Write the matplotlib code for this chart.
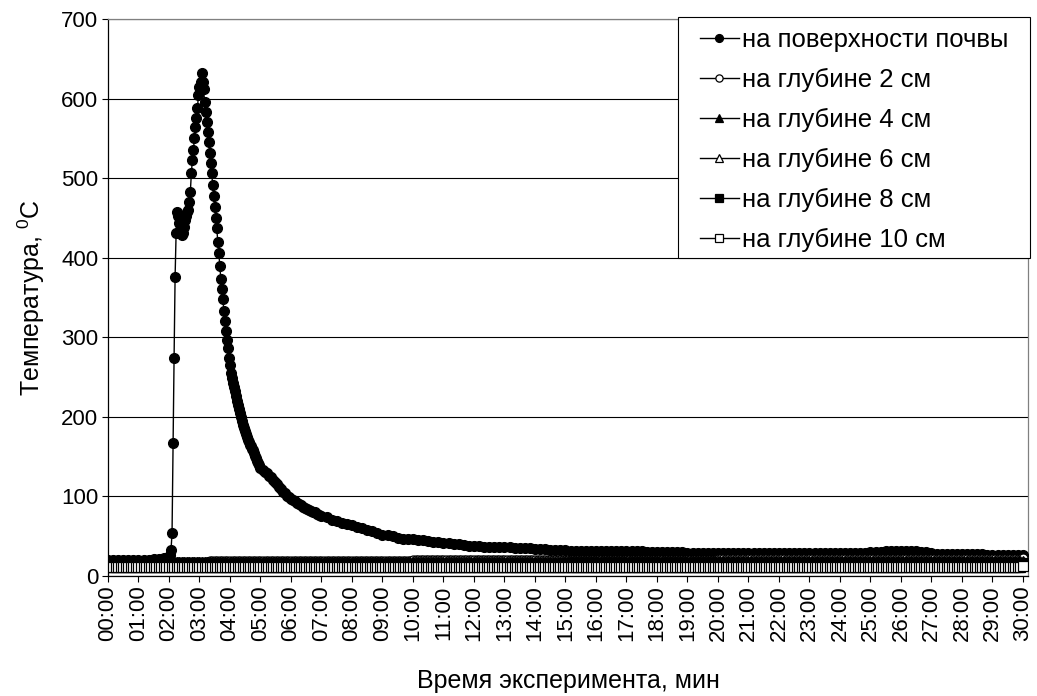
import matplotlib
matplotlib.use('Agg')
import matplotlib.pyplot as plt
from matplotlib.patches import Rectangle
import numpy as np

plt.rcParams['font.family'] = ['Liberation Sans', 'DejaVu Sans']
plt.rcParams['mathtext.fontset'] = 'custom'
plt.rcParams['mathtext.rm'] = 'Liberation Sans'

# ---------------- data ----------------
# time stamps (seconds) of the surface series: coarse before the burn, dense around the peak
surface_t = np.concatenate([np.arange(0, 111, 10), np.arange(116, 301, 2),
                            np.arange(304, 421, 4), np.arange(430, 1801, 10)])
surface = [
    20, 20, 20, 20, 20, 20, 20, 20, 20, 21, 21, 22,
    # 116 .. 300 s, every 2 s
    22, 23, 24, 27, 33, 54, 167, 274, 376, 431,
    458, 452, 444, 447, 435, 428, 431, 439, 447, 452,
    458, 460, 470, 483, 506, 523, 535, 550, 564, 575,
    588, 605, 615, 621, 632, 621, 612, 596, 583, 571,
    558, 546, 532, 519, 506, 492, 477, 464, 450, 437,
    420, 406, 389, 373, 361, 348, 333, 320, 308, 297,
    287, 274, 265, 255, 249, 243, 237, 232, 226, 220,
    215, 210, 205, 200, 195, 190, 186, 182, 178, 175,
    171, 168, 165, 163, 160, 158, 154, 151, 148, 145,
    142, 139, 136,
    # 304 .. 420 s, every 4 s
    133, 131, 129, 126, 124, 121, 118, 115, 112, 109,
    106, 104, 101, 99, 97, 95, 94, 92, 90, 89,
    87, 86, 84, 83, 82, 81, 80, 78, 77, 76,
    # 430 .. 1800 s, every 10 s
    74, 71, 69, 67, 65, 64, 62, 60,
    58, 56, 54, 52, 51, 50, 48, 47, 47, 46,
    45, 45, 44, 43, 43, 42, 41, 40, 40, 39,
    38, 38, 38, 37, 37, 37, 36, 36, 36, 35,
    35, 35, 35, 34, 34, 34, 33, 33, 33, 33,
    32, 32, 32, 32, 32, 32, 32, 32, 31, 31,
    31, 31, 31, 31, 31, 30, 30, 30, 30, 30,
    30, 30, 30, 29, 29, 29, 29, 29, 29, 29,
    29, 29, 29, 29, 29, 29, 29, 29, 29, 29,
    29, 29, 29, 29, 29, 29, 29, 29, 29, 29,
    29, 29, 29, 29, 29, 29, 29, 29, 29, 30,
    30, 30, 31, 31, 31, 31, 31, 31, 31, 30,
    30, 29, 28, 28, 28, 28, 28, 28, 28, 28,
    28, 28, 27, 27, 27, 27, 27, 27, 27, 27,
]

# depth series: one reading every 5 s, 0 .. 1800 s
depth_t = np.arange(0, 1801, 5)
depth_2 = [
    18, 18, 18, 18, 18, 18, 18, 18, 18, 18, 18, 18, 18, 18, 18, 18, 18, 18, 18, 18,
    18, 18, 18, 18, 18, 18, 18, 18, 18, 18, 18, 18, 18, 18, 18, 18, 18, 18, 18, 18,
    19, 19, 19, 19, 19, 19, 19, 19, 19, 19, 19, 19, 19, 19, 19, 19, 19, 19, 19, 19,
    19, 19, 19, 19, 19, 19, 19, 19, 19, 19, 19, 19, 19, 19, 19, 19, 19, 19, 19, 19,
    19, 19, 19, 19, 19, 19, 19, 19, 19, 19, 19, 19, 19, 19, 19, 19, 19, 19, 19, 19,
    19, 19, 19, 19, 19, 19, 19, 19, 19, 19, 19, 19, 19, 19, 19, 19, 19, 19, 19, 19,
    20, 20, 20, 20, 20, 20, 20, 20, 20, 20, 20, 20, 20, 20, 20, 20, 20, 20, 20, 20,
    20, 20, 20, 20, 20, 20, 20, 20, 20, 20, 20, 20, 20, 20, 20, 20, 20, 20, 20, 20,
    20, 20, 20, 20, 20, 20, 20, 20, 20, 20, 20, 20, 20, 20, 20, 20, 20, 20, 20, 20,
    20, 20, 20, 20, 20, 20, 20, 20, 20, 20, 20, 20, 20, 20, 20, 20, 20, 20, 20, 20,
    20, 20, 20, 20, 20, 20, 20, 20, 20, 20, 20, 20, 20, 20, 20, 20, 20, 20, 20, 20,
    20, 20, 20, 20, 20, 20, 20, 20, 20, 20, 20, 20, 20, 20, 20, 20, 20, 20, 20, 20,
    21, 21, 21, 21, 21, 21, 21, 21, 21, 21, 21, 21, 21, 21, 21, 21, 21, 21, 21, 21,
    21, 21, 21, 21, 21, 21, 21, 21, 21, 21, 21, 21, 21, 21, 21, 21, 21, 21, 21, 21,
    21, 21, 21, 21, 21, 21, 21, 21, 21, 21, 21, 21, 21, 21, 21, 21, 21, 21, 21, 21,
    21, 21, 21, 21, 21, 21, 21, 21, 21, 21, 21, 21, 21, 21, 21, 21, 21, 21, 21, 21,
    21, 21, 21, 21, 21, 21, 21, 21, 21, 21, 21, 21, 21, 21, 21, 21, 21, 21, 21, 21,
    21, 21, 21, 21, 21, 21, 21, 21, 21, 21, 21, 21, 21, 21, 21, 21, 21, 21, 21, 21,
    22,
]
depth_4 = [
    17, 17, 17, 17, 17, 17, 17, 17, 17, 17, 17, 17, 17, 17, 17, 17, 17, 17, 17, 17,
    17, 17, 17, 17, 17, 17, 17, 17, 17, 17, 17, 17, 17, 17, 17, 17, 17, 17, 17, 17,
    17, 17, 17, 17, 17, 17, 17, 17, 17, 17, 17, 17, 17, 17, 17, 17, 17, 17, 17, 17,
    18, 18, 18, 18, 18, 18, 18, 18, 18, 18, 18, 18, 18, 18, 18, 18, 18, 18, 18, 18,
    18, 18, 18, 18, 18, 18, 18, 18, 18, 18, 18, 18, 18, 18, 18, 18, 18, 18, 18, 18,
    18, 18, 18, 18, 18, 18, 18, 18, 18, 18, 18, 18, 18, 18, 18, 18, 18, 18, 18, 18,
    18, 18, 18, 18, 18, 18, 18, 18, 18, 18, 18, 18, 18, 18, 18, 18, 18, 18, 18, 18,
    18, 18, 18, 18, 18, 18, 18, 18, 18, 18, 18, 18, 18, 18, 18, 18, 18, 18, 18, 18,
    18, 18, 18, 18, 18, 18, 18, 18, 18, 18, 18, 18, 18, 18, 18, 18, 18, 18, 18, 18,
    19, 19, 19, 19, 19, 19, 19, 19, 19, 19, 19, 19, 19, 19, 19, 19, 19, 19, 19, 19,
    19, 19, 19, 19, 19, 19, 19, 19, 19, 19, 19, 19, 19, 19, 19, 19, 19, 19, 19, 19,
    19, 19, 19, 19, 19, 19, 19, 19, 19, 19, 19, 19, 19, 19, 19, 19, 19, 19, 19, 19,
    19, 19, 19, 19, 19, 19, 19, 19, 19, 19, 19, 19, 19, 19, 19, 19, 19, 19, 19, 19,
    19, 19, 19, 19, 19, 19, 19, 19, 19, 19, 19, 19, 19, 19, 19, 19, 19, 19, 19, 19,
    19, 19, 19, 19, 19, 19, 19, 19, 19, 19, 19, 19, 19, 19, 19, 19, 19, 19, 19, 19,
    19, 19, 19, 19, 19, 19, 19, 19, 19, 19, 19, 19, 19, 19, 19, 19, 19, 19, 19, 19,
    19, 19, 19, 19, 19, 19, 19, 19, 19, 19, 19, 19, 19, 19, 19, 19, 19, 19, 19, 19,
    19, 19, 19, 19, 19, 19, 19, 19, 19, 19, 19, 19, 19, 19, 19, 19, 19, 19, 19, 19,
    19,
]
depth_6 = [
    16, 16, 16, 16, 16, 16, 16, 16, 16, 16, 16, 16, 16, 16, 16, 16, 16, 16, 16, 16,
    16, 16, 16, 16, 16, 16, 16, 16, 16, 16, 16, 16, 16, 16, 16, 16, 16, 16, 16, 16,
    16, 16, 16, 16, 16, 16, 16, 16, 16, 16, 16, 16, 16, 16, 16, 16, 16, 16, 16, 16,
    16, 16, 16, 16, 16, 16, 16, 16, 16, 16, 16, 16, 16, 16, 16, 16, 16, 16, 16, 16,
    16, 16, 16, 16, 16, 16, 16, 16, 16, 16, 16, 16, 16, 16, 16, 16, 16, 16, 16, 16,
    16, 16, 16, 16, 16, 16, 16, 16, 16, 16, 16, 16, 16, 16, 16, 16, 16, 16, 16, 16,
    17, 17, 17, 17, 17, 17, 17, 17, 17, 17, 17, 17, 17, 17, 17, 17, 17, 17, 17, 17,
    17, 17, 17, 17, 17, 17, 17, 17, 17, 17, 17, 17, 17, 17, 17, 17, 17, 17, 17, 17,
    17, 17, 17, 17, 17, 17, 17, 17, 17, 17, 17, 17, 17, 17, 17, 17, 17, 17, 17, 17,
    17, 17, 17, 17, 17, 17, 17, 17, 17, 17, 17, 17, 17, 17, 17, 17, 17, 17, 17, 17,
    17, 17, 17, 17, 17, 17, 17, 17, 17, 17, 17, 17, 17, 17, 17, 17, 17, 17, 17, 17,
    17, 17, 17, 17, 17, 17, 17, 17, 17, 17, 17, 17, 17, 17, 17, 17, 17, 17, 17, 17,
    17, 17, 17, 17, 17, 17, 17, 17, 17, 17, 17, 17, 17, 17, 17, 17, 17, 17, 17, 17,
    17, 17, 17, 17, 17, 17, 17, 17, 17, 17, 17, 17, 17, 17, 17, 17, 17, 17, 17, 17,
    17, 17, 17, 17, 17, 17, 17, 17, 17, 17, 17, 17, 17, 17, 17, 17, 17, 17, 17, 17,
    17, 17, 17, 17, 17, 17, 17, 17, 17, 17, 17, 17, 17, 17, 17, 17, 17, 17, 17, 17,
    17, 17, 17, 17, 17, 17, 17, 17, 17, 17, 17, 17, 17, 17, 17, 17, 17, 17, 17, 17,
    17, 17, 17, 17, 17, 17, 17, 17, 17, 17, 17, 17, 17, 17, 17, 17, 17, 17, 17, 17,
    17,
]
depth_8 = [
    15, 15, 15, 15, 15, 15, 15, 15, 15, 15, 15, 15, 15, 15, 15, 15, 15, 15, 15, 15,
    15, 15, 15, 15, 15, 15, 15, 15, 15, 15, 15, 15, 15, 15, 15, 15, 15, 15, 15, 15,
    15, 15, 15, 15, 15, 15, 15, 15, 15, 15, 15, 15, 15, 15, 15, 15, 15, 15, 15, 15,
    15, 15, 15, 15, 15, 15, 15, 15, 15, 15, 15, 15, 15, 15, 15, 15, 15, 15, 15, 15,
    15, 15, 15, 15, 15, 15, 15, 15, 15, 15, 15, 15, 15, 15, 15, 15, 15, 15, 15, 15,
    15, 15, 15, 15, 15, 15, 15, 15, 15, 15, 15, 15, 15, 15, 15, 15, 15, 15, 15, 15,
    15, 15, 15, 15, 15, 15, 15, 15, 15, 15, 15, 15, 15, 15, 15, 15, 15, 15, 15, 15,
    15, 15, 15, 15, 15, 15, 15, 15, 15, 15, 15, 15, 15, 15, 15, 15, 15, 15, 15, 15,
    15, 15, 15, 15, 15, 15, 15, 15, 15, 15, 15, 15, 15, 15, 15, 15, 15, 15, 15, 15,
    16, 16, 16, 16, 16, 16, 16, 16, 16, 16, 16, 16, 16, 16, 16, 16, 16, 16, 16, 16,
    16, 16, 16, 16, 16, 16, 16, 16, 16, 16, 16, 16, 16, 16, 16, 16, 16, 16, 16, 16,
    16, 16, 16, 16, 16, 16, 16, 16, 16, 16, 16, 16, 16, 16, 16, 16, 16, 16, 16, 16,
    16, 16, 16, 16, 16, 16, 16, 16, 16, 16, 16, 16, 16, 16, 16, 16, 16, 16, 16, 16,
    16, 16, 16, 16, 16, 16, 16, 16, 16, 16, 16, 16, 16, 16, 16, 16, 16, 16, 16, 16,
    16, 16, 16, 16, 16, 16, 16, 16, 16, 16, 16, 16, 16, 16, 16, 16, 16, 16, 16, 16,
    16, 16, 16, 16, 16, 16, 16, 16, 16, 16, 16, 16, 16, 16, 16, 16, 16, 16, 16, 16,
    16, 16, 16, 16, 16, 16, 16, 16, 16, 16, 16, 16, 16, 16, 16, 16, 16, 16, 16, 16,
    16, 16, 16, 16, 16, 16, 16, 16, 16, 16, 16, 16, 16, 16, 16, 16, 16, 16, 16, 16,
    16,
]
depth_10 = [
    11, 11, 11, 11, 11, 11, 11, 11, 11, 11, 11, 11, 11, 11, 11, 11, 11, 11, 11, 11,
    11, 11, 11, 11, 11, 11, 11, 11, 11, 11, 11, 11, 11, 11, 11, 11, 11, 11, 11, 11,
    11, 11, 11, 11, 11, 11, 11, 11, 11, 11, 11, 11, 11, 11, 11, 11, 11, 11, 11, 11,
    11, 11, 11, 11, 11, 11, 11, 11, 11, 11, 11, 11, 11, 11, 11, 11, 11, 11, 11, 11,
    11, 11, 11, 11, 11, 11, 11, 11, 11, 11, 11, 11, 11, 11, 11, 11, 11, 11, 11, 11,
    11, 11, 11, 11, 11, 11, 11, 11, 11, 11, 11, 11, 11, 11, 11, 11, 11, 11, 11, 11,
    11, 11, 11, 11, 11, 11, 11, 11, 11, 11, 11, 11, 11, 11, 11, 11, 11, 11, 11, 11,
    11, 11, 11, 11, 11, 11, 11, 11, 11, 11, 11, 11, 11, 11, 11, 11, 11, 11, 11, 11,
    11, 11, 11, 11, 11, 11, 11, 11, 11, 11, 11, 11, 11, 11, 11, 11, 11, 11, 11, 11,
    11, 11, 11, 11, 11, 11, 11, 11, 11, 11, 11, 11, 11, 11, 11, 11, 11, 11, 11, 11,
    11, 11, 11, 11, 11, 11, 11, 11, 11, 11, 11, 11, 11, 11, 11, 11, 11, 11, 11, 11,
    11, 11, 11, 11, 11, 11, 11, 11, 11, 11, 11, 11, 11, 11, 11, 11, 11, 11, 11, 11,
    11, 11, 11, 11, 11, 11, 11, 11, 11, 11, 11, 11, 11, 11, 11, 11, 11, 11, 11, 11,
    11, 11, 11, 11, 11, 11, 11, 11, 11, 11, 11, 11, 11, 11, 11, 11, 11, 11, 11, 11,
    11, 11, 11, 11, 11, 11, 11, 11, 11, 11, 11, 11, 11, 11, 11, 11, 11, 11, 11, 11,
    11, 11, 11, 11, 11, 11, 11, 11, 11, 11, 11, 11, 11, 11, 11, 11, 11, 11, 11, 11,
    11, 11, 11, 11, 11, 11, 11, 11, 11, 11, 11, 11, 11, 11, 11, 11, 11, 11, 11, 11,
    11, 11, 11, 11, 11, 11, 11, 11, 11, 11, 11, 11, 11, 11, 11, 11, 11, 11, 11, 11,
    12,
]

series_labels = ['на поверхности почвы', 'на глубине 2 см', 'на глубине 4 см',
                 'на глубине 6 см', 'на глубине 8 см', 'на глубине 10 см']

tick_seconds = [m * 60 for m in range(31)]
tick_labels = ['00:00', '01:00', '02:00', '03:00', '04:00', '05:00', '06:00', '07:00',
               '08:00', '09:00', '10:00', '11:00', '12:00', '13:00', '14:00', '15:00',
               '16:00', '17:00', '18:00', '19:00', '20:00', '21:00', '22:00', '23:00',
               '24:00', '25:00', '26:00', '27:00', '28:00', '29:00', '30:00']
y_ticks = [0, 100, 200, 300, 400, 500, 600, 700]

# ---------------- figure ----------------
W, H = 1037, 696
fig = plt.figure(figsize=(W / 100, H / 100), dpi=100)
ax = fig.add_axes([108 / W, 1 - 576 / H, (1028 - 108) / W, (576 - 19) / H])

FS_TICK = 16
FS_LAB = 18
FS_LEG = 18.5
lw = 1.0

handles = []
h, = ax.plot(surface_t, surface, color='k', lw=lw, marker='o', ms=7,
             mfc='k', mec='k', label=series_labels[0], zorder=3)
handles.append(h)
styles = [('o', 'white'), ('^', 'k'), ('^', 'white'), ('s', 'k'), ('s', 'white')]
for vals, (mk, fc), lab in zip([depth_2, depth_4, depth_6, depth_8, depth_10],
                               styles, series_labels[1:]):
    h, = ax.plot(depth_t, vals, color='k', lw=lw, marker=mk, ms=6.5,
                 mfc=fc, mec='k', mew=0.9, label=lab, zorder=3)
    handles.append(h)

ax.set_xlim(0, 1810)
ax.set_ylim(0, 700)
ax.set_xticks(tick_seconds)
ax.set_xticklabels(tick_labels, rotation=90, fontsize=FS_TICK)
ax.set_yticks(y_ticks)
ax.set_yticklabels([str(v) for v in y_ticks], fontsize=FS_TICK)
ax.tick_params(axis='both', direction='out', length=4, width=0.8, color='k', pad=3)

ax.yaxis.grid(True, color='k', lw=0.8)
ax.set_axisbelow(True)
for s in ['left', 'bottom']:
    ax.spines[s].set_color('k')
    ax.spines[s].set_linewidth(0.9)
for s in ['top', 'right']:
    ax.spines[s].set_color('#808080')
    ax.spines[s].set_linewidth(0.9)

ax.set_xlabel('Время эксперимента, мин', fontsize=FS_LAB, labelpad=20)
ax.set_ylabel('Температура, $^{\\mathregular{0}}$C', fontsize=FS_LAB, labelpad=10)

# legend box (figure level so it sits above the plotted series)
box = Rectangle((678 / W, 1 - 258 / H), 352 / W, 241 / H, transform=fig.transFigure,
                facecolor='white', edgecolor='k', lw=0.8, zorder=5)
fig.add_artist(box)
leg = fig.legend(handles, series_labels, loc='upper left',
                 bbox_to_anchor=(700 / W, 1 - 28 / H), fontsize=FS_LEG,
                 frameon=False, borderpad=0, borderaxespad=0,
                 handlelength=1.5, handletextpad=0.15, labelspacing=0.62,
                 markerscale=0.8)
leg.set_zorder(6)

fig.savefig('out.png', dpi=100)
